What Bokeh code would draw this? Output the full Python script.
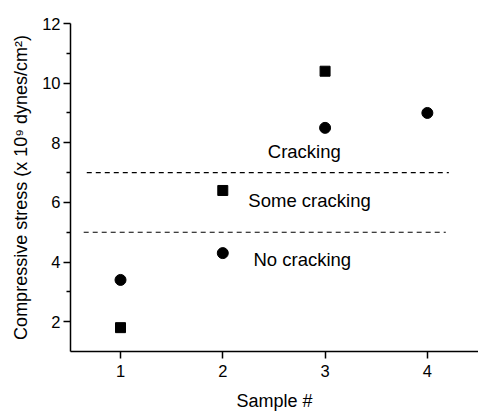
from bokeh.plotting import figure
from bokeh.models import Range1d, FixedTicker
from bokeh.embed import file_html
from bokeh.resources import INLINE
from bokeh.core.properties import value

# Data
circle_x = [1, 2, 3, 4]
circle_y = [3.4, 4.3, 8.5, 9.0]
square_x = [1, 2, 3]
square_y = [1.8, 6.4, 10.4]
threshold_y = [7, 5]
threshold_x_start = [0.67, 0.64]
threshold_x_end = [4.21, 4.18]
label_text = ["Cracking", "Some cracking", "No cracking"]
label_x = [2.44, 2.25, 2.30]
label_y = [7.72, 6.08, 4.1]
x_ticks = [1, 2, 3, 4]
y_ticks = [2, 4, 6, 8, 10, 12]
y_minor = [3, 5, 7, 9, 11]

FONT = "Liberation Sans"

W, H = 478, 413
p = figure(width=W, height=H, output_backend="svg", toolbar_location=None,
           x_range=Range1d(0.511, 4.5), y_range=Range1d(1.0, 12),
           min_border_left=70, min_border_right=0, min_border_top=23, min_border_bottom=57)
p.outline_line_color = None
p.grid.visible = False
p.background_fill_color = "white"
p.border_fill_color = "white"

p.xaxis.ticker = FixedTicker(ticks=x_ticks)
p.yaxis.ticker = FixedTicker(ticks=y_ticks, minor_ticks=y_minor)
for ax in (p.xaxis, p.yaxis):
    ax.axis_line_color = "black"
    ax.axis_line_width = 1.5
    ax.major_tick_line_color = "black"
    ax.major_tick_line_width = 1.5
    ax.minor_tick_line_color = "black"
    ax.minor_tick_line_width = 1.5
    ax.major_tick_out = 7
    ax.major_tick_in = 0
    ax.minor_tick_out = 4
    ax.minor_tick_in = 0
    ax.major_label_text_font = FONT
    ax.major_label_text_font_size = "16.5px"
    ax.major_label_text_color = "black"
    ax.axis_label_text_font = FONT
    ax.axis_label_text_font_size = "18px"
    ax.axis_label_text_font_style = "normal"
    ax.axis_label_text_color = "black"
p.xaxis.minor_tick_line_color = None
p.xaxis.major_label_standoff = 6
p.yaxis.major_label_standoff = 3
p.xaxis.axis_label = "Sample #"
p.yaxis.axis_label = "Compressive stress (x 10\u2079 dynes/cm\u00b2)"
p.xaxis.axis_label_standoff = 11
p.yaxis.axis_label_standoff = 8

for yv, xs, xe in zip(threshold_y, threshold_x_start, threshold_x_end):
    p.line([xs, xe], [yv, yv], line_color="black", line_dash="5 4", line_width=1.2)

p.scatter(square_x, square_y, marker="square", size=10, color="black")
p.scatter(circle_x, circle_y, marker="circle", size=11, color="black")

p.text(x=label_x, y=label_y, text=label_text, text_font=value(FONT),
       text_font_size="18.5px", text_align="left", text_baseline="middle", text_color="black")

open("out.html", "w").write(file_html(p, INLINE))
